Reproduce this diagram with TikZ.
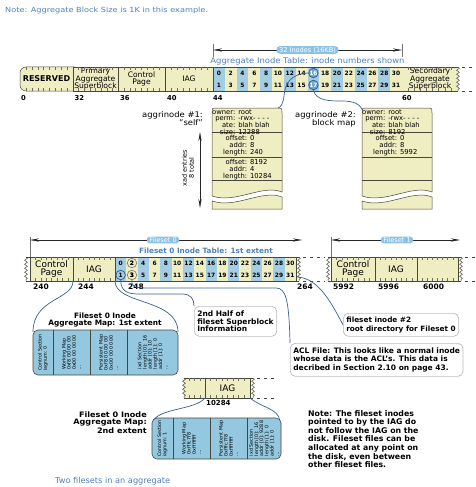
\documentclass[tikz,border=0pt]{standalone}
\usepackage{fontspec}
\setmainfont{DejaVu Sans}
\usetikzlibrary{calc,arrows.meta,decorations.pathmorphing,backgrounds}

\definecolor{diskcream}{RGB}{239,237,194}
\definecolor{inodeblue}{RGB}{163,205,226}
\definecolor{cellline}{RGB}{72,72,58}
\definecolor{linkblue}{RGB}{58,96,148}
\definecolor{notetext}{RGB}{78,128,188}
\definecolor{pillblue}{RGB}{138,194,228}
\definecolor{ringblue}{RGB}{112,166,214}
\definecolor{mapblue}{RGB}{148,199,224}
\definecolor{calloutgray}{RGB}{188,188,188}

\def\blockticks(#1:#2:#3:#4:#5){\foreach \k in {1,...,#5}{\draw[tickmark] ({#1+\k*#4},#2) -- ++(0,3); \draw[tickmark] ({#1+\k*#4},#3) -- ++(0,-3);}}
\def\fieldrows#1{\begin{tabular}{@{}r@{ }l@{}}#1\end{tabular}}
\def\inodecard(#1){%
  \draw[cellline, fill=diskcream, line width=0.5pt] (#1,196) -- (#1,113) .. controls (#1,108) .. ({#1+5},108) -- ({#1+65},108) .. controls ({#1+70},108) .. ({#1+70},113) -- ({#1+70},192) .. controls ({#1+50},184) and ({#1+24},204) .. (#1,196) -- cycle;
  \draw[cellline, fill=diskcream, line width=0.5pt] (#1,201) .. controls ({#1+24},209) and ({#1+50},189) .. ({#1+70},197) -- ({#1+70},209) -- (#1,209) -- cycle;
  \draw[cellline, line width=0.5pt] (#1,132) -- ++(70,0) (#1,157) -- ++(70,0) (#1,180) -- ++(70,0);}

\begin{document}
\begin{tikzpicture}[x=1pt,y=-1pt,
  diskcell/.style={draw=cellline, fill=diskcream, line width=0.5pt, minimum height=24pt, inner sep=0pt, outer sep=0pt, anchor=north west, align=center, font=\fontsize{7.6}{7.5}\selectfont},
  inocell/.style={fill=#1, minimum height=12pt, inner sep=0pt, outer sep=0pt, anchor=north west, font=\bfseries\fontsize{5.9}{6}\selectfont},
  tickmark/.style={draw=cellline!80, line width=0.35pt},
  breakline/.style={draw=cellline, line width=0.5pt, decorate, decoration={snake, segment length=4pt, amplitude=1.4pt}},
  gapdash/.style={draw=cellline, line width=0.5pt, dash pattern=on 3pt off 4pt},
  dimline/.style={draw=black!85, line width=0.5pt, >={Stealth[length=9pt,width=3.2pt]}, <->},
  dimtick/.style={draw=black!55, line width=0.4pt},
  pill/.style={fill=pillblue, text=white, rounded corners=3.2pt, inner xsep=2.5pt, inner ysep=0.9pt, font=\fontsize{6.6}{6.6}\selectfont},
  bluetitle/.style={text=notetext, inner sep=0pt, font=\fontsize{7}{7}\selectfont},
  blocknum/.style={anchor=north west, inner sep=0pt, font=\bfseries\fontsize{6.8}{7}\selectfont},
  inoring/.style={circle, draw=linkblue, fill=ringblue, text=white, line width=0.8pt, inner sep=0pt, minimum size=9.5pt, font=\bfseries\fontsize{5.9}{6}\selectfont},
  grayring/.style={circle, draw=black!55, line width=0.6pt, inner sep=0pt, minimum size=9.5pt, font=\bfseries\fontsize{5.9}{6}\selectfont},
  link/.style={draw=linkblue, line width=0.7pt},
  fields/.style={anchor=north west, inner sep=0pt, font=\fontsize{6.8}{6.2}\selectfont},
  sidelabel/.style={align=right, anchor=north east, inner sep=0pt, xscale=1.08, font=\fontsize{7.8}{8}\selectfont},
  callout/.style={draw=calloutgray, fill=white, rounded corners=5pt, line width=0.7pt, anchor=north west, align=left, inner sep=3pt},
  mapsec/.style={rotate=90, align=left, inner sep=0pt, font=\fontsize{4.8}{5.2}\selectfont}]
%%%%% START %%%%%
\useasboundingbox (0,0) rectangle (476,487);

\node[anchor=west, bluetitle, xscale=1.17] (sizenote) at (5,11) {Note: Aggregate Block Size is 1K in this example.};

% aggregate layout
\draw[cellline, fill=diskcream, line width=0.5pt, rounded corners=6pt] (20,67) rectangle (80,91);
\node[diskcell, draw=none, fill=none, minimum width=53pt, font=\bfseries\fontsize{8}{8}\selectfont] (reserved) at (20,67) {RESERVED};
\node[diskcell, minimum width=45pt] (primary) at (73,67) {Primary\\Aggregate\\Superblock};
\node[diskcell, minimum width=47pt] (ctrlpage) at (118,67) {Control\\Page};
\node[diskcell, minimum width=48pt] (aggiag) at (165,67) {IAG};
\foreach \c in {0,...,15}{
  \pgfmathtruncatemacro\evenino{2*\c}
  \pgfmathtruncatemacro\oddino{2*\c+1}
  \ifodd\c \def\colfill{diskcream}\else \def\colfill{inodeblue}\fi
  \node[inocell=\colfill, minimum width=11.8125pt] (it\c) at ({213+11.8125*\c},67) {\evenino};
  \node[inocell=\colfill, minimum width=11.8125pt] (ib\c) at ({213+11.8125*\c},79) {\oddino};
}
\draw[cellline, line width=0.5pt] (213,67) rectangle (402,91);
\node[diskcell, draw=none, minimum width=56pt] (secondary) at (402,67) {Secondary\\Aggregate\\Superblock};
\draw[cellline, line width=0.5pt] (402,67) -- (458,67) (402,91) -- (458,91);
\draw[breakline] (458,67) -- (458,91);
\draw[gapdash] (462,67) -- (476,67) (462,91) -- (476,91);
\blockticks(20:67:91:5.9:8)
\blockticks(73:67:91:5.63:7)
\blockticks(118:67:91:5.88:7)
\blockticks(165:67:91:6:7)
\blockticks(402:67:91:6.1:8)

\node[inoring] (ino16) at (it8.center) {16};
\node[inoring] (ino17) at (ib8.center) {17};

\coordinate (tblstart) at (213,50);
\coordinate (tblend) at (402,50);
\draw[dimtick] (213,44) -- (213,57) (402,44) -- (402,57);
\draw[dimline] (tblstart) -- (tblend);
\node[pill] (inodespan) at ($(tblstart)!0.5!(tblend)$) {32 Inodes (16KB)};
\node[bluetitle, xscale=1.08, font=\fontsize{7.8}{8}\selectfont] (tabletitle) at (307.5,61) {Aggregate Inode Table: inode numbers shown};

\node[blocknum] (b0) at (21,95) {0};
\node[blocknum] (b32) at (74.5,95) {32};
\node[blocknum] (b36) at (120,95) {36};
\node[blocknum] (b40) at (167,95) {40};
\node[blocknum] (b44) at (213,95) {44};
\node[blocknum] (b60) at (402,95) {60};

% aggregate inodes
\inodecard(212)
\inodecard(362)
\node[fields] (agg1head) at (212,109.5) {\fieldrows{owner:&root\\perm:&-rwx- - - -\\ate:&blah blah\\size:&12288}};
\node[fields, font=\fontsize{6.8}{5.8}\selectfont] (agg1x0) at (223,135) {\fieldrows{offset:&0\\addr:&8\\length:&240}};
\node[fields, font=\fontsize{6.8}{5.8}\selectfont] (agg1x1) at (223,159.5) {\fieldrows{offset:&8192\\addr:&4\\length:&10284}};
\node[fields] (agg2head) at (362,109.5) {\fieldrows{owner:&root\\perm:&-rwx- - - -\\ate:&blah blah\\size:&8192}};
\node[fields, font=\fontsize{6.8}{5.8}\selectfont] (agg2x0) at (373,135) {\fieldrows{offset:&0\\addr:&8\\length:&5992}};
\coordinate (agg1top) at (278,108);
\coordinate (agg2top) at (363,111);

\node[sidelabel] (agg1label) at (203,111) {aggrinode \#1:\\"self"};
\node[sidelabel] (agg2label) at (356,111) {aggrinode \#2:\\block map};
\coordinate (xadtop) at (200,132);
\coordinate (xadbot) at (200,208);
\draw[dimline] (xadtop) -- (xadbot);
\node[rotate=90, align=center, inner sep=0pt, font=\fontsize{6.5}{7}\selectfont] (xadcount) at (188,168) {xad entries\\8 total};

\draw[link] (ino16.west) .. controls (290,74) and (285,84) .. (284,96) .. controls (283,104) and (281,107) .. (agg1top);
\draw[link] (ino17.south) .. controls (316,101) and (330,101) .. (342,101) .. controls (354,101) and (360,104) .. (agg2top);

% filesets
\coordinate (fs0start) at (30,240);
\coordinate (fs0end) at (302,240);
\draw[dimtick] (30,237) -- (30,257) (331,237) -- (331,257);
\draw[dimline] (fs0start) -- (fs0end);
\node[pill] (fs0tag) at (163,240) {Fileset 0};
\node[bluetitle, font=\bfseries\fontsize{7.3}{7.5}\selectfont] (fs0title) at (206,251) {Fileset 0 Inode Table: 1st extent};
\coordinate (fs1start) at (331,240);
\coordinate (fs1end) at (460,240);
\draw[dimline] (fs1start) -- (fs1end);
\node[pill] (fs1tag) at (397,240) {Fileset 1};

\node[diskcell, minimum width=43pt, font=\fontsize{9}{8.5}\selectfont] (fs0ctrl) at (30,257) {Control\\Page};
\node[diskcell, minimum width=42pt, font=\fontsize{9}{8.5}\selectfont] (fs0iag) at (73,257) {IAG};
\foreach \c in {0,...,15}{
  \pgfmathtruncatemacro\evenino{2*\c}
  \pgfmathtruncatemacro\oddino{2*\c+1}
  \ifodd\c \def\colfill{diskcream}\else \def\colfill{inodeblue}\fi
  \node[inocell=\colfill, minimum width=11.3125pt] (ft\c) at ({115+11.3125*\c},257) {\evenino};
  \node[inocell=\colfill, minimum width=11.3125pt] (fb\c) at ({115+11.3125*\c},269) {\oddino};
}
\draw[cellline, line width=0.5pt] (115,257) rectangle (296,281);
\draw[cellline, line width=0.5pt] (26,257) -- (30,257) (26,281) -- (30,281) (296,257) -- (299,257) (296,281) -- (299,281);
\draw[breakline] (26,257) -- (26,281);
\draw[breakline] (299,257) -- (299,281);
\draw[gapdash] (303,257) -- (325,257) (303,281) -- (325,281);
\node[diskcell, minimum width=44pt, font=\fontsize{9}{8.5}\selectfont] (fs1ctrl) at (331,257) {Control\\Page};
\node[diskcell, minimum width=42pt, font=\fontsize{9}{8.5}\selectfont] (fs1iag) at (375,257) {IAG};
\node[diskcell, minimum width=41pt] (fs1free) at (417,257) {};
\draw[cellline, line width=0.5pt] (328,257) -- (331,257) (328,281) -- (331,281) (458,257) -- (461,257) (458,281) -- (461,281);
\draw[breakline] (328,257) -- (328,281);
\draw[breakline] (461,257) -- (461,281);
\draw[gapdash] (465,257) -- (476,257) (465,281) -- (476,281);
\blockticks(30:257:281:5.4:7)
\blockticks(73:257:281:5.25:7)
\blockticks(331:257:281:5.5:7)
\blockticks(375:257:281:5.25:7)
\blockticks(417:257:281:5.1:7)

\node[inoring, fill=inodeblue, text=black] (fsino1) at (fb0.center) {1};
\node[grayring] (fsino2) at (ft1.center) {2};
\node[grayring] (fsino3) at (fb1.center) {3};

\node[blocknum, font=\bfseries\fontsize{7.5}{7.5}\selectfont] (b240) at (33,284) {240};
\node[blocknum, font=\bfseries\fontsize{7.5}{7.5}\selectfont] (b244) at (78,284) {244};
\node[blocknum, font=\bfseries\fontsize{7.5}{7.5}\selectfont] (b248) at (128,284) {248};
\node[blocknum, font=\bfseries\fontsize{7.5}{7.5}\selectfont] (b264) at (297,284) {264};
\node[blocknum, font=\bfseries\fontsize{7.5}{7.5}\selectfont] (b5992) at (333,284) {5992};
\node[blocknum, font=\bfseries\fontsize{7.5}{7.5}\selectfont] (b5996) at (378,284) {5996};
\node[blocknum, font=\bfseries\fontsize{7.5}{7.5}\selectfont] (b6000) at (423,284) {6000};

% aggregate map, 1st extent
\draw[link] (fs0iag.south west) .. controls (73,300) and (33,298) .. (33,332);
\draw[link] (fs0iag.south east) .. controls (115,305) and (178,298) .. (178,332);
\draw[cellline, fill=mapblue, line width=0.6pt, rounded corners=5pt] (33,330) rectangle (178,375);
\draw[cellline, line width=0.6pt] (53,330) -- (53,375) (90,330) -- (90,375) (127,330) -- (127,375);
\node[align=center, inner sep=0pt, font=\bfseries\fontsize{7.4}{7.8}\selectfont] (map1title) at (105,320) {Fileset 0 Inode\\Aggregate Map: 1st extent};
\node[mapsec] (m1ctl) at (43,352.5) {Control Section\\iagnum: 0};
\node[mapsec] (m1work) at (71.5,352.5) {Working Map\\0xf8 00 00 00\\0x00 00 00 00\\...};
\node[mapsec] (m1pers) at (108.5,352.5) {Persistent Map\\0xf8 00 00 00\\0x00 00 00 00\\...};
\node[mapsec] (m1ixd) at (152.5,352.5) {ixd Section\\length [0]: 16\\addr [0]: 10\\length [1]: 0\\addr [1]: 0\\...};

% notes on fileset inodes
\node[callout, minimum width=82pt, minimum height=30pt, font=\bfseries\fontsize{7.5}{7.4}\selectfont] (sbnote) at (194,306) {2nd Half of\\fileset Superblock\\Information};
\node[callout, minimum width=112pt, minimum height=23pt, font=\bfseries\fontsize{7.3}{9.5}\selectfont] (rootnote) at (343,313) {fileset inode \#2\\root directory for Fileset 0};
\node[callout, minimum width=167pt, minimum height=33pt, font=\bfseries\fontsize{7.5}{8.5}\selectfont] (aclnote) at (290,343) {ACL File: This looks like a normal inode\\whose data is the ACL's. This data is\\decribed in Section 2.10 on page 43.};

\draw[link] (fsino1.south) .. controls (121,292) and (128,294) .. (140,294) -- (182,294) .. controls (191,294) and (194,299) .. (sbnote.north west);
\draw[link] (fsino3.south) .. controls (131,287) and (136,288) .. (146,288) -- (276,288) .. controls (286,288) and (289,300) .. (aclnote.north west);
\begin{scope}[on background layer]
\draw[link] (fsino2.center) -- (298,277) .. controls (318,279) and (330,300) .. (rootnote.west);
\end{scope}

% aggregate map, 2nd extent
\node[diskcell, draw=none, minimum width=21pt, minimum height=20pt] (ext2pre) at (184,378) {};
\node[diskcell, minimum width=45pt, minimum height=20pt, font=\fontsize{9}{8.5}\selectfont] (ext2iag) at (205,378) {IAG};
\draw[cellline, line width=0.5pt] (184,378) -- (205,378) (184,398) -- (205,398) (250,378) -- (253,378) (250,398) -- (253,398);
\draw[breakline] (184,378) -- (184,398);
\draw[breakline] (253,378) -- (253,398);
\draw[gapdash] (257,378) -- (276,378) (257,398) -- (276,398);
\blockticks(184:378:398:5.25:3)
\blockticks(205:378:398:5.6:7)
\node[blocknum, font=\bfseries\fontsize{7}{7}\selectfont] (b10284) at (206,400) {10284};

\draw[link] (ext2iag.south west) .. controls (195,410) and (160,408) .. (153,421);
\draw[link] (ext2iag.south east) .. controls (262,408) and (278,408) .. (280,421);
\draw[cellline, fill=mapblue, line width=0.6pt, rounded corners=5pt] (152,418) rectangle (281,459);
\draw[cellline, line width=0.6pt] (173,418) -- (173,459) (210,418) -- (210,459) (247,418) -- (247,459);
\node[sidelabel, xscale=1, font=\bfseries\fontsize{7.5}{7}\selectfont] (map2label) at (147,412) {Fileset 0 Inode\\Aggregate Map:\\2nd extent};
\node[mapsec] (m2ctl) at (162.5,438.5) {Control Section\\iagnum: 1};
\node[mapsec] (m2work) at (191.5,438.5) {Working Map\\0xfffc7f8\\0xffffffff\\...};
\node[mapsec] (m2pers) at (228.5,438.5) {Persistent Map\\0xfffc7f8\\0xffffffff\\...};
\node[mapsec] (m2ixd) at (264,438.5) {ixd Section\\length [0]: 16\\addr [0]: 9288\\length [1]: 0\\addr [1]: 0\\...};

\node[anchor=north west, align=left, inner sep=0pt, font=\bfseries\fontsize{7.8}{8.6}\selectfont] (layoutnote) at (308,410) {Note: The fileset inodes\\pointed to by the IAG do\\not follow the IAG on the\\disk. Fileset files can be\\allocated at any point on\\the disk, even between\\other fileset files.};

\node[anchor=west, text=notetext, inner sep=0pt, font=\fontsize{8.2}{8.2}\selectfont] (caption) at (55,481) {Two filesets in an aggregate};
%%%%% END %%%%%
\end{tikzpicture}
\end{document}
